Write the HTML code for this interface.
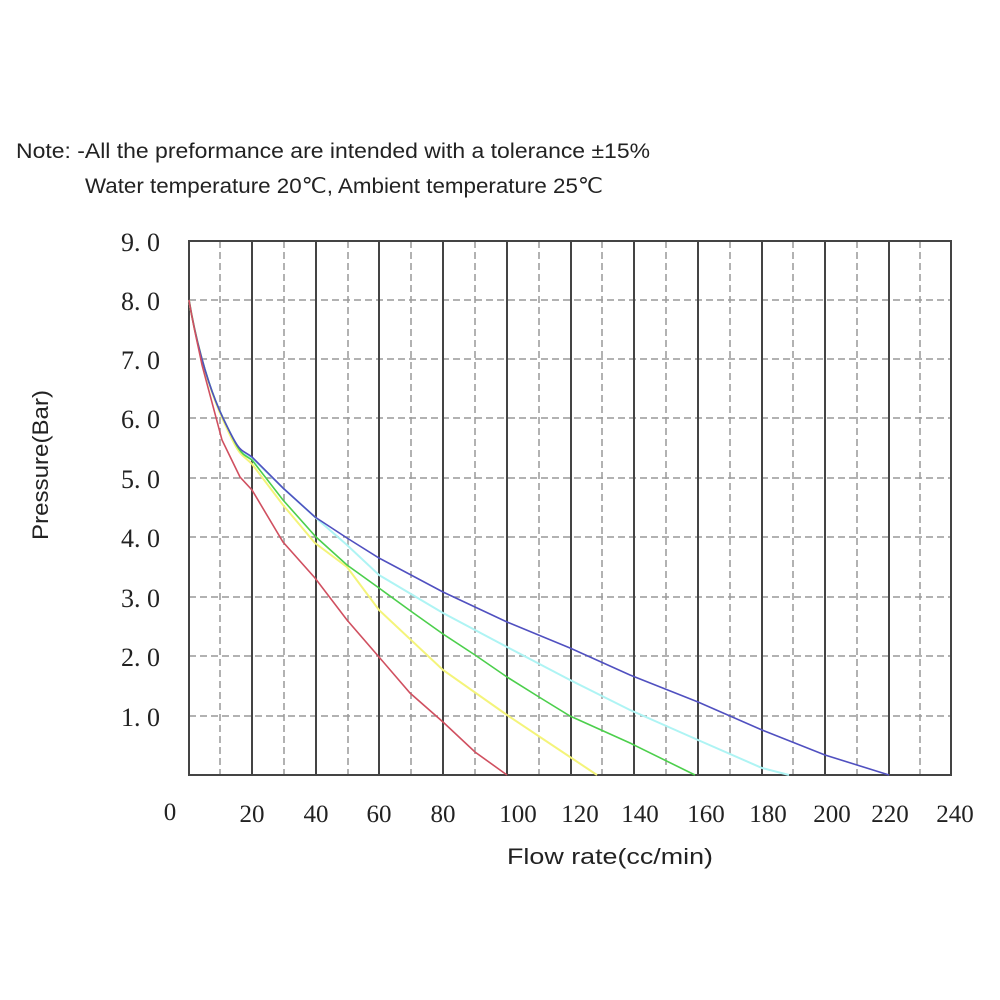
<!DOCTYPE html>
<html><head><style>body{margin:0;background:#fff}svg{display:block}</style></head><body>
<svg width="1000" height="1000" viewBox="0 0 1000 1000" xmlns="http://www.w3.org/2000/svg">
<rect width="1000" height="1000" fill="#fff"/>
<text x="16" y="158" font-family="Liberation Sans, sans-serif" font-size="21" fill="#222" textLength="634" lengthAdjust="spacingAndGlyphs">Note: -All the preformance are intended with a tolerance ±15%</text>
<text x="85" y="193" font-family="Liberation Sans, sans-serif" font-size="21" fill="#222" textLength="518" lengthAdjust="spacingAndGlyphs">Water temperature 20℃, Ambient temperature 25℃</text>
<g stroke="#999" stroke-width="1.5" stroke-dasharray="7,4" fill="none">
<path d="M220 241V775M284 241V775M348 241V775M411 241V775M475 241V775M539 241V775M602 241V775M666 241V775M730 241V775M793 241V775M857 241V775M920 241V775"/>
<path d="M189 300H951M189 359H951M189 418H951M189 478H951M189 537H951M189 597H951M189 656H951M189 716H951"/>
</g>
<g stroke="#444" stroke-width="2" fill="none">
<path d="M252 241V775M316 241V775M379 241V775M443 241V775M507 241V775M571 241V775M634 241V775M698 241V775M762 241V775M825 241V775M889 241V775"/>
<rect x="189" y="241" width="762" height="534"/>
</g>
<g fill="none" stroke-width="1.6">
<path stroke="#aef4f4" stroke-width="2" d="M189 300 C194 330 205 380 223 418 S240 450 252 458 L283 488 L316 518 L347 545 L379 575 L443 613 L507 647 L570 680 L630 710 L698 740 L762 768 L789 775"/>
<path stroke="#f4f47a" stroke-width="2" d="M189 300 C194 330 205 380 223 420 S240 452 252 464 L283 505 L315 543 L347 567 L379 610 L443 670 L507 715 L570 757 L597 775"/>
<path stroke="#4ccf4c" d="M189 300 C194 330 205 380 223 418 S240 452 252 460 L283 500 L316 537 L347 565 L379 588 L412 612 L443 634 L475 655 L507 677 L539 697 L570 716 L630 743 L695 775"/>
<path stroke="#5050c0" d="M189 300 C194 330 205 380 223 418 S240 448 252 457 L283 488 L315 517 L347 538 L379 558 L443 592 L507 622 L570 648 L630 675 L698 702 L762 730 L825 755 L889 775"/>
<path stroke="#d05060" d="M189 300 C193 325 198 345 202 365 L222 440 L240 477 L252 490 L283 542 L315 578 L347 620 L379 657 L410 693 L443 722 L475 752 L507 775"/>
</g>
<g font-family="Liberation Serif, serif" font-size="26" fill="#222" text-anchor="end">
<text x="160" y="251">9. 0</text><text x="160" y="310">8. 0</text><text x="160" y="369">7. 0</text><text x="160" y="428">6. 0</text><text x="160" y="488">5. 0</text><text x="160" y="547">4. 0</text><text x="160" y="607">3. 0</text><text x="160" y="666">2. 0</text><text x="160" y="726">1. 0</text>
</g>
<g font-family="Liberation Serif, serif" font-size="25" fill="#222" text-anchor="middle">
<text x="170" y="820">0</text><text x="252" y="822">20</text><text x="316" y="822">40</text><text x="379" y="822">60</text><text x="443" y="822">80</text><text x="518" y="822">100</text><text x="580" y="822">120</text><text x="640" y="822">140</text><text x="706" y="822">160</text><text x="768" y="822">180</text><text x="832" y="822">200</text><text x="890" y="822">220</text><text x="955" y="822">240</text>
</g>
<text x="507" y="864" font-family="Liberation Sans, sans-serif" font-size="22" fill="#222" textLength="206" lengthAdjust="spacingAndGlyphs">Flow rate(cc/min)</text>
<text transform="translate(48,540) rotate(-90)" font-family="Liberation Sans, sans-serif" font-size="22" fill="#222" textLength="150" lengthAdjust="spacingAndGlyphs">Pressure(Bar)</text>
</svg>
</body></html>
